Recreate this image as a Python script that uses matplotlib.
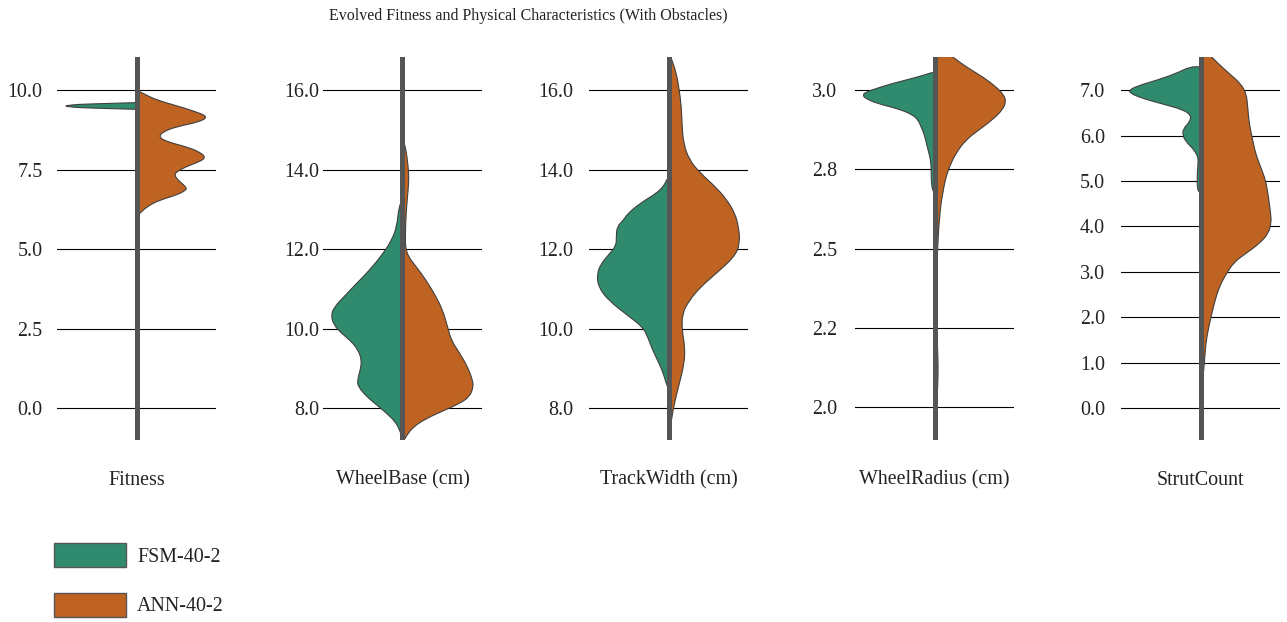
import matplotlib
matplotlib.use('Agg')
import matplotlib.pyplot as plt
from matplotlib.patches import Patch, PathPatch
from matplotlib.path import Path
from matplotlib.ticker import FormatStrFormatter

plt.rc('font', family='Liberation Serif', size=14.4)

groups = ['FSM-40-2', 'ANN-40-2']
colors = ['#308b6e', '#be6322']
names = ['Fitness', 'WheelBase (cm)', 'TrackWidth (cm)', 'WheelRadius (cm)', 'StrutCount']

# violin outlines: value, half width relative to widest point
fit_fsm_y = [9.395, 9.41, 9.43, 9.45, 9.48, 9.50, 9.52, 9.55, 9.57, 9.59, 9.605]
fit_fsm_w = [0, 0.25, 0.55, 0.82, 0.95, 1.0, 0.95, 0.82, 0.55, 0.25, 0]
fit_ann_y = [10.0, 9.84, 9.69, 9.48, 9.32, 9.16, 9.00, 8.85, 8.69, 8.53, 8.38, 8.22, 8.06, 7.88,
             7.75, 7.59, 7.43, 7.33, 7.17, 6.96, 6.86, 6.70, 6.54, 6.33, 6.10, 6.08]
fit_ann_w = [0, 0.14, 0.28, 0.60, 0.83, 1.0, 0.88, 0.56, 0.37, 0.31, 0.42, 0.69, 0.88, 0.97,
             0.88, 0.69, 0.56, 0.53, 0.58, 0.69, 0.70, 0.56, 0.32, 0.14, 0.04, 0]

wb_fsm_y = [13.23, 13.07, 12.56, 12.23, 11.89, 11.47, 11.14, 10.80, 10.55, 10.34, 10.09, 9.88,
            9.67, 9.46, 9.21, 8.96, 8.70, 8.54, 8.29, 8.08, 7.87, 7.66, 7.45, 7.24]
wb_fsm_w = [0, 0.05, 0.08, 0.15, 0.27, 0.46, 0.64, 0.82, 0.95, 1.0, 0.96, 0.85,
            0.71, 0.62, 0.57, 0.59, 0.63, 0.62, 0.50, 0.36, 0.22, 0.10, 0.04, 0]
wb_ann_y = [14.83, 14.49, 14.07, 13.74, 13.32, 12.90, 12.39, 12.06, 11.81, 11.56, 11.22, 10.80,
            10.47, 10.05, 9.71, 9.38, 9.04, 8.70, 8.54, 8.29, 8.12, 7.95, 7.74, 7.53, 7.32,
            7.19, 7.11]
wb_ann_w = [0, 0.05, 0.08, 0.09, 0.07, 0.05, 0.04, 0.04, 0.08, 0.19, 0.33, 0.47,
            0.56, 0.63, 0.68, 0.80, 0.91, 0.98, 0.99, 0.94, 0.80, 0.59, 0.33, 0.15, 0.06,
            0.02, 0]

tw_fsm_y = [13.82, 13.48, 13.15, 12.89, 12.73, 12.56, 12.31, 12.10, 11.89, 11.64, 11.38, 11.05,
            10.71, 10.29, 10.04, 9.79, 9.45, 9.12, 8.86, 8.61, 8.49]
tw_fsm_w = [0, 0.10, 0.40, 0.57, 0.63, 0.72, 0.73, 0.73, 0.82, 0.94, 1.0, 0.98,
            0.84, 0.54, 0.36, 0.29, 0.22, 0.13, 0.07, 0.03, 0]
tw_ann_y = [16.95, 16.80, 16.42, 16.0, 15.58, 15.08, 14.66, 14.24, 13.90, 13.56, 13.23, 12.89,
            12.56, 12.14, 11.80, 11.38, 11.05, 10.71, 10.37, 9.95, 9.53, 9.12, 8.61, 8.11,
            7.69, 7.39, 7.30]
tw_ann_w = [0, 0.04, 0.11, 0.15, 0.18, 0.19, 0.21, 0.29, 0.45, 0.66, 0.82, 0.93,
            0.98, 1.0, 0.92, 0.66, 0.45, 0.29, 0.19, 0.19, 0.23, 0.22, 0.15, 0.08,
            0.04, 0.01, 0]

wr_fsm_y = [3.0546, 3.0546, 3.049, 3.037, 3.021, 3.005, 2.992, 2.984, 2.974, 2.958, 2.942,
            2.924, 2.906, 2.885, 2.864, 2.843, 2.811, 2.785, 2.759, 2.717, 2.685, 2.675]
wr_fsm_w = [0, 0.046, 0.116, 0.30, 0.58, 0.81, 0.97, 1.0, 0.97, 0.81, 0.53,
            0.32, 0.23, 0.19, 0.15, 0.125, 0.09, 0.06, 0.046, 0.046, 0.03, 0]
wr_ann_y = [3.13, 3.115, 3.105, 3.073, 3.042, 3.010, 2.984, 2.963, 2.937, 2.906, 2.874, 2.843,
            2.801, 2.759, 2.717, 2.675, 2.633, 2.570, 2.507, 2.444, 2.381, 2.318, 2.255,
            2.192, 2.129, 2.066, 2.024, 1.993, 1.972]
wr_ann_w = [0, 0.20, 0.25, 0.44, 0.67, 0.86, 0.97, 1.0, 0.95, 0.81, 0.62, 0.44,
            0.30, 0.21, 0.15, 0.116, 0.085, 0.06, 0.045, 0.035, 0.028, 0.025, 0.03,
            0.042, 0.051, 0.046, 0.032, 0.014, 0]

sc_fsm_y = [7.514, 7.514, 7.367, 7.220, 7.088, 7.0, 6.941, 6.838, 6.691, 6.574, 6.449, 6.302,
            6.155, 6.008, 5.861, 5.715, 5.568, 5.457, 5.164, 4.796, 4.75]
sc_fsm_w = [0, 0.15, 0.34, 0.61, 0.89, 0.995, 0.985, 0.85, 0.52, 0.25, 0.13, 0.15,
            0.24, 0.25, 0.20, 0.106, 0.046, 0.03, 0.046, 0.046, 0]
sc_ann_y = [7.90, 7.81, 7.698, 7.367, 7.147, 6.927, 6.633, 6.265, 5.898, 5.604, 5.311, 5.017,
            4.649, 4.282, 4.099, 3.841, 3.621, 3.401, 3.217, 2.960, 2.666, 2.299, 1.858,
            1.491, 1.050, 0.610, 0.242, 0.022, -0.345, -0.40]
sc_ann_w = [0, 0.12, 0.17, 0.40, 0.56, 0.64, 0.66, 0.68, 0.73, 0.77, 0.84, 0.91,
            0.95, 0.98, 0.99, 0.95, 0.82, 0.63, 0.47, 0.36, 0.26, 0.19, 0.125,
            0.079, 0.056, 0.032, 0.023, 0.019, 0.014, 0]

fsm = [(fit_fsm_y, fit_fsm_w), (wb_fsm_y, wb_fsm_w), (tw_fsm_y, tw_fsm_w),
       (wr_fsm_y, wr_fsm_w), (sc_fsm_y, sc_fsm_w)]
ann = [(fit_ann_y, fit_ann_w), (wb_ann_y, wb_ann_w), (tw_ann_y, tw_ann_w),
       (wr_ann_y, wr_ann_w), (sc_ann_y, sc_ann_w)]

yticks = [[0, 2.5, 5, 7.5, 10],
          [8, 10, 12, 14, 16],
          [8, 10, 12, 14, 16],
          [2.0, 2.25, 2.5, 2.75, 3.0],
          [0, 1, 2, 3, 4, 5, 6, 7]]
ylims = [(-1.0, 11.04), (7.2, 16.83), (7.2, 16.83), (1.896, 3.104), (-0.70, 7.73)]
pads = [10.4, 2.9, 11.5, 13.0, 11.5]


def half_violin(ax, y, w, side, color):
    # outline as a smooth path through the read points (midpoint quadratic curves)
    pts = [(side * 0.9 * v, u) for u, v in zip(y, w)]
    verts = [(0, y[0]), pts[0],
             ((pts[0][0] + pts[1][0]) / 2, (pts[0][1] + pts[1][1]) / 2)]
    codes = [Path.MOVETO, Path.LINETO, Path.LINETO]
    for k in range(1, len(pts) - 1):
        nxt = pts[k + 1]
        verts += [pts[k], ((pts[k][0] + nxt[0]) / 2, (pts[k][1] + nxt[1]) / 2)]
        codes += [Path.CURVE3, Path.CURVE3]
    verts += [pts[-1], (0, y[-1]), (0, y[0])]
    codes += [Path.LINETO, Path.LINETO, Path.CLOSEPOLY]
    ax.add_patch(PathPatch(Path(verts, codes), facecolor=color,
                           edgecolor='#3f3f3f', lw=0.8, zorder=2))


W, H = 1287, 622
fig = plt.figure(figsize=(W / 100, H / 100), dpi=100)

lefts = [57, 323, 589, 855, 1121]
for i in range(5):
    ax = fig.add_axes([lefts[i] / W, 1 - 440 / H, 159 / W, 383 / H])
    half_violin(ax, fsm[i][0], fsm[i][1], -1, colors[0])
    half_violin(ax, ann[i][0], ann[i][1], 1, colors[1])
    ax.axvline(0, color='#555555', lw=3.6, zorder=3)
    ax.set_xlim(-1, 1)
    ax.set_ylim(ylims[i])
    ax.set_yticks(yticks[i])
    ax.yaxis.set_major_formatter(FormatStrFormatter('%.1f'))
    ax.set_xticks([])
    ax.tick_params(axis='y', length=0, pad=pads[i], colors='#222222')
    ax.grid(axis='y', color='black', lw=0.8, zorder=0)
    ax.set_axisbelow(True)
    for s in ax.spines.values():
        s.set_visible(False)
    ax.set_xlabel(names[i], labelpad=22, color='#222222')

fig.text(528 / W, 1 - 16 / H, 'Evolved Fitness and Physical Characteristics (With Obstacles)',
         ha='center', va='center', fontsize=11.5, color='#222222')

handles = [Patch(facecolor=colors[0], edgecolor='#555555', label=groups[0]),
           Patch(facecolor=colors[1], edgecolor='#555555', label=groups[1])]
fig.legend(handles=handles, loc='upper left', bbox_to_anchor=(54 / W, 1 - 543 / H),
           frameon=False, borderpad=0, borderaxespad=0, handlelength=3.6, handleheight=1.45,
           labelspacing=1.3, handletextpad=0.55, labelcolor='#222222')

fig.savefig('out.png', dpi=100)
